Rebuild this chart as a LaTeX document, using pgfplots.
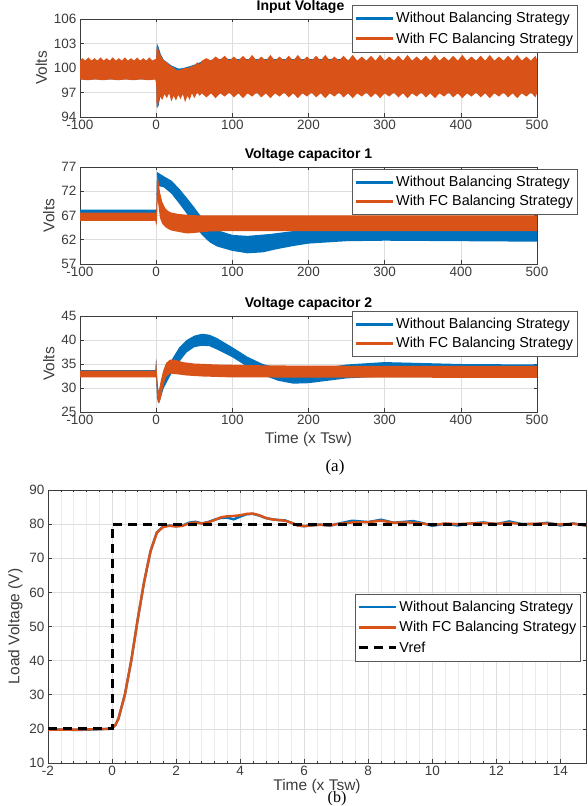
\documentclass[border=0pt]{standalone}
\usepackage{pgfplots}
\pgfplotsset{compat=1.18}
\usepgfplotslibrary{fillbetween}
\usepackage{fontspec}
\setmainfont{Liberation Sans}
\newfontfamily\capfont{Liberation Serif}

\definecolor{mblue}{RGB}{0,114,189}
\definecolor{morange}{RGB}{217,83,25}
\definecolor{axgray}{RGB}{60,60,60}
\definecolor{gridgray}{RGB}{222,222,222}

\pgfplotsset{
  mstyle/.style={
    scale only axis,
    axis line style={axgray, line width=0.6pt},
    tick style={axgray, line width=0.5pt},
    tick align=inside,
    major tick length=3.5pt,
    ticklabel style={font=\fontsize{13.5}{15}\selectfont, text=axgray},
    /pgf/number format/assume math mode=true,
    /pgf/number format/1000 sep={},
    grid=major,
    major grid style={gridgray, line width=0.6pt},
    label style={font=\fontsize{15.5}{17}\selectfont, text=axgray},
    title style={font=\bfseries\fontsize{14}{16}\selectfont, yshift=-4pt},
    legend style={font=\fontsize{14.4}{16}\selectfont, draw=black!65, line width=0.5pt,
      fill=white, inner xsep=2pt, inner ysep=5pt, row sep=3pt, cells={anchor=west}},
    legend image code/.code={\draw[##1] (0pt,0pt) -- (37pt,0pt);},
  },
  band/.style={draw=none, forget plot},
}

\begin{document}
\begin{tikzpicture}

% ---------------- Input voltage ----------------
\begin{axis}[mstyle, at={(80pt,689pt)}, anchor=south west, width=457pt, height=98pt,
  xmin=-100, xmax=500, ymin=94, ymax=106,
  xtick={-100,0,...,500}, ytick={94,97,100,103,106},
  ylabel={Volts}, title={Input Voltage}, title style={xshift=-8pt},
  legend style={at={(0.595,1.14)}, anchor=north west, row sep=4.5pt}]
\addplot[band, name path=bu1] coordinates {(-100,100.9)(-1,100.9)(0,101.2)(1,103.0)(3,102.6)(6,101.7)(10,101.0)(20,100.3)(30,99.9)(40,100.1)(50,100.4)(60,100.8)(80,101.1)(100,101.1)(240,101.1)(260,100.9)(500,100.9)};
\addplot[band, name path=bl1] coordinates {(-100,98.6)(-1,98.6)(0,98.0)(1,95.2)(3,95.3)(6,96.8)(10,96.9)(500,96.9)};
\addplot[mblue, forget plot] fill between[of=bu1 and bl1];
\addplot[band, name path=ou1] coordinates {(-100,100.9)(-97,101.2)(-93,100.9)(-89,101.3)(-85,100.9)(-81,101.2)(-77,100.9)(-73,101.3)(-69,100.9)(-65,101.2)(-61,100.9)(-57,101.3)(-53,100.9)(-49,101.2)(-45,100.9)(-41,101.3)(-37,100.9)(-33,101.2)(-29,100.9)(-25,101.3)(-21,100.9)(-17,101.2)(-13,100.9)(-9,101.3)(-5,100.9)(-1,101.1)
(0,101.0)(0.5,102.5)(2,102.6)(4,101.9)(7,101.4)(10,100.9)(14,100.7)(18,100.3)(22,100.1)(26,99.8)(30,99.7)(34,99.9)(38,100.0)(42,100.0)(46,100.2)(50,100.3)(54,100.7)(57,100.4)
(60,100.9)(66,101.2)(72,100.9)(78,101.4)(84,101.0)(90,101.5)(96,100.9)(102,101.4)(108,100.9)(114,101.5)(120,100.9)(126,101.6)(132,100.9)(138,101.4)(144,100.9)(150,101.6)(156,100.9)(162,101.4)(168,100.9)(174,101.5)(180,100.9)(186,101.6)(192,100.9)(198,101.4)(204,100.9)(210,101.5)(216,100.9)(222,101.6)(228,100.9)(234,101.4)(240,100.9)(246,101.5)(252,100.9)(258,101.6)(264,100.9)(270,101.4)(276,100.9)(282,101.5)(288,100.9)(294,101.6)(300,100.9)(306,101.4)(312,100.9)(318,101.5)(324,100.9)(330,101.6)(336,100.9)(342,101.4)(348,100.9)(354,101.5)(360,100.9)(366,101.6)(372,100.9)(378,101.4)(384,100.9)(390,101.5)(396,100.9)(402,101.6)(408,100.9)(414,101.4)(420,100.9)(426,101.5)(432,100.9)(438,101.6)(444,100.9)(450,101.4)(456,100.9)(462,101.5)(468,100.9)(474,101.6)(480,100.9)(486,101.4)(492,100.9)(498,101.5)(500,101.0)};
\addplot[band, name path=ol1] coordinates {(-100,98.6)(-90,98.5)(-80,98.6)(-70,98.5)(-60,98.6)(-50,98.5)(-40,98.6)(-30,98.5)(-20,98.6)(-10,98.5)(-1,98.6)
(0,98.5)(0.5,95.3)(2,95.1)(3,95.8)(5,96.5)(8,96.1)(11,96.8)(14,96.3)(17,96.9)(20,95.9)(23,96.6)(26,96.0)(29,96.7)(32,96.2)(35,96.8)(38,95.8)(41,96.6)(44,96.1)(47,96.9)(50,96.3)(54,97.0)(57,96.6)
(60,96.9)(66,96.4)(72,96.9)(78,96.3)(84,96.9)(90,96.5)(96,97.0)(102,96.4)(108,96.9)(114,96.3)(120,96.9)(126,96.5)(132,97.0)(138,96.4)(144,96.9)(150,96.3)(156,96.9)(162,96.5)(168,97.0)(174,96.4)(180,96.9)(186,96.3)(192,96.9)(198,96.5)(204,97.0)(210,96.4)(216,96.9)(222,96.3)(228,96.9)(234,96.5)(240,97.0)(246,96.4)(252,96.9)(258,96.3)(264,96.9)(270,96.5)(276,97.0)(282,96.4)(288,96.9)(294,96.3)(300,96.9)(306,96.5)(312,97.0)(318,96.4)(324,96.9)(330,96.3)(336,96.9)(342,96.5)(348,97.0)(354,96.4)(360,96.9)(366,96.3)(372,96.9)(378,96.5)(384,97.0)(390,96.4)(396,96.9)(402,96.3)(408,96.9)(414,96.5)(420,97.0)(426,96.4)(432,96.9)(438,96.3)(444,96.9)(450,96.5)(456,97.0)(462,96.4)(468,96.9)(474,96.3)(480,96.9)(486,96.5)(492,97.0)(498,96.4)(500,96.9)};
\addplot[morange, forget plot] fill between[of=ou1 and ol1];
\addlegendimage{mblue, line width=3pt}
\addlegendentry{Without Balancing Strategy}
\addlegendimage{morange, line width=3pt}
\addlegendentry{With FC Balancing Strategy}
\end{axis}

% ---------------- Capacitor 1 ----------------
\begin{axis}[mstyle, at={(80pt,542pt)}, anchor=south west, width=457pt, height=97pt,
  xmin=-100, xmax=500, ymin=57, ymax=77,
  xtick={-100,0,...,500}, ytick={57,62,67,72,77},
  ylabel={Volts}, title={Voltage capacitor 1},
  legend style={at={(0.595,0.98)}, anchor=north west}]
\addplot[band, name path=bu2] coordinates {(-100,68.2)(-1,68.2)(0,68.3)(1,76.0)(5,75.6)(10,75.1)(20,74.2)(30,72.6)(40,70.7)(50,68.7)(60,66.6)(70,65.0)(80,64.0)(100,63.0)(120,62.8)(150,63.2)(175,63.7)(200,64.1)(250,64.4)(300,64.4)(400,64.3)(500,64.2)};
\addplot[band, name path=bl2] coordinates {(-100,66.5)(-1,66.5)(0,65.5)(1,73.0)(5,73.0)(10,72.8)(20,71.5)(30,69.5)(40,67.4)(50,65.0)(60,63.0)(70,61.5)(80,60.6)(100,59.7)(120,59.2)(140,59.4)(160,60.1)(180,60.7)(200,61.2)(250,61.7)(300,61.8)(400,61.7)(500,61.6)};
\addplot[mblue, forget plot] fill between[of=bu2 and bl2];
\addplot[band, name path=ou2] coordinates {(-100,67.6)(-1,67.6)(0,67.8)(1.5,75.3)(3,74.2)(5,71.8)(8,69.8)(12,68.5)(16,67.9)(20,67.6)(30,67.3)(45,67.1)(60,67.0)(500,67.0)};
\addplot[band, name path=ol2] coordinates {(-100,65.9)(-1,65.9)(0,64.9)(1,65.5)(2,70.5)(3,69.0)(5,66.5)(8,65.3)(12,64.6)(16,64.2)(20,63.9)(30,63.6)(40,63.3)(50,63.4)(70,63.7)(100,63.8)(500,63.8)};
\addplot[morange, forget plot] fill between[of=ou2 and ol2];
\addlegendimage{mblue, line width=3pt}
\addlegendentry{Without Balancing Strategy}
\addlegendimage{morange, line width=3pt}
\addlegendentry{With FC Balancing Strategy}
\end{axis}

% ---------------- Capacitor 2 ----------------
\begin{axis}[mstyle, at={(80pt,394pt)}, anchor=south west, width=457pt, height=96pt,
  xmin=-100, xmax=500, ymin=25, ymax=45,
  xtick={-100,0,...,500}, ytick={25,30,...,45},
  ylabel={Volts}, xlabel={Time (x Tsw)}, title={Voltage capacitor 2},
  legend style={at={(0.595,1.052)}, anchor=north west}]
\addplot[band, name path=bu3] coordinates {(-100,33.7)(-1,33.7)(0,36.2)(1,33.0)(3,29.0)(5,30.2)(10,32.6)(20,35.8)(30,38.4)(40,40.0)(50,40.9)(60,41.3)(70,41.1)(80,40.4)(100,38.5)(120,36.5)(140,35.0)(160,34.2)(180,33.8)(200,33.8)(220,34.2)(250,34.9)(300,35.4)(350,35.2)(400,35.0)(500,34.9)};
\addplot[band, name path=bl3] coordinates {(-100,32.3)(-1,32.3)(0,32.0)(1,28.0)(3,26.8)(5,27.4)(10,30.0)(20,33.0)(30,35.4)(40,37.4)(50,38.5)(60,38.8)(70,38.7)(80,38.0)(100,36.4)(120,34.4)(140,32.7)(160,31.5)(180,30.9)(200,31.0)(220,31.4)(250,32.0)(300,32.4)(400,32.4)(500,32.3)};
\addplot[mblue, forget plot] fill between[of=bu3 and bl3];
\addplot[band, name path=ou3] coordinates {(-100,33.6)(-1,33.6)(0,36.0)(1,33.0)(2,29.5)(4,29.8)(6,31.5)(9,33.5)(13,35.2)(18,35.9)(25,35.9)(35,35.4)(50,35.1)(80,34.9)(150,34.7)(300,34.6)(500,34.6)};
\addplot[band, name path=ol3] coordinates {(-100,32.2)(-1,32.2)(0,32.4)(1,29.0)(2,27.2)(4,26.8)(6,27.8)(9,30.3)(13,32.3)(18,33.0)(25,32.9)(40,32.6)(60,32.4)(100,32.2)(500,32.1)};
\addplot[morange, forget plot] fill between[of=ou3 and ol3];
\addlegendimage{mblue, line width=3pt}
\addlegendentry{Without Balancing Strategy}
\addlegendimage{morange, line width=3pt}
\addlegendentry{With FC Balancing Strategy}
\end{axis}

\node[font=\capfont\fontsize{17}{19}\selectfont] at (335pt,339pt) {(a)};

% ---------------- Load voltage ----------------
\begin{axis}[mstyle, at={(48pt,43pt)}, anchor=south west, width=538pt, height=273pt,
  xmin=-2, xmax=14.8, ymin=10, ymax=90,
  xtick={-2,0,...,14}, ytick={10,20,...,90},
  minor x tick num=4, grid=both,
  minor grid style={gridgray!60, line width=0.5pt},
  minor tick length=2pt,
  xlabel style={yshift=4pt},
  ylabel={Load Voltage (V)}, xlabel={Time (x Tsw)},
  legend style={at={(0.571,0.62)}, anchor=north west, row sep=4.5pt}]
\addplot[mblue, line width=2.4pt] coordinates {(-2,19.8)(-1,19.7)(-0.1,20.0)(0,20.3)(0.1,21.0)(0.2,23.0)(0.4,30.0)(0.6,40.0)(0.8,52.0)(1.0,63.0)(1.2,72.0)(1.4,77.6)(1.6,79.3)(1.8,79.6)(2.0,79.4)(2.2,79.6)(2.4,80.4)(2.6,80.7)(2.8,80.2)(3.0,80.6)(3.2,81.3)(3.4,81.8)(3.6,81.9)(3.8,81.4)(4.0,82.2)(4.2,82.9)(4.4,83.0)(4.6,82.5)(4.8,81.8)(5.0,81.4)(5.2,81.2)(5.4,81.1)(5.6,80.4)(5.8,79.6)(6.0,79.4)(6.2,79.6)(6.5,79.9)(6.8,79.5)(7.0,80.0)(7.5,81.0)(8.0,80.6)(8.4,81.3)(8.8,80.4)(9.4,80.9)(9.7,80.3)(10.0,79.5)(10.4,80.1)(10.8,79.6)(11.2,80.2)(11.6,80.5)(12.0,80.0)(12.4,80.8)(12.8,80.0)(13.2,80.0)(13.6,80.4)(14.0,79.6)(14.4,80.2)(14.8,79.6)};
\addlegendentry{Without Balancing Strategy}
\addplot[morange, line width=2.4pt] coordinates {(-2,19.8)(-1,19.8)(-0.1,20.0)(0,20.3)(0.1,21.0)(0.2,23.0)(0.4,30.0)(0.6,40.0)(0.8,52.0)(1.0,63.0)(1.2,72.0)(1.4,77.5)(1.6,79.2)(1.8,79.5)(2.0,79.3)(2.2,79.5)(2.4,80.2)(2.6,80.5)(2.8,80.2)(3.0,80.5)(3.2,81.2)(3.4,82.0)(3.6,82.3)(3.8,82.4)(4.0,82.6)(4.2,83.0)(4.4,83.1)(4.6,82.6)(4.8,81.8)(5.0,81.4)(5.2,81.2)(5.4,81.0)(5.6,80.4)(5.8,79.6)(6.0,79.4)(6.2,79.6)(6.5,79.8)(6.8,79.6)(7.0,80.0)(7.5,80.5)(8.0,80.6)(8.4,81.0)(8.8,80.4)(9.2,80.5)(9.6,80.3)(10.0,79.7)(10.4,80.2)(10.8,80.0)(11.2,80.2)(11.6,80.3)(12.0,80.1)(12.4,80.4)(12.8,80.0)(13.2,80.1)(13.6,80.2)(14.0,79.9)(14.4,80.1)(14.8,79.6)};
\addlegendentry{With FC Balancing Strategy}
\addplot[black, line width=3pt, dash pattern=on 9pt off 6pt] coordinates {(-2,20)(0,20)(0,80)(14.8,80)};
\addlegendentry{Vref}
\end{axis}

\node[font=\capfont\fontsize{16}{18}\selectfont] at (337pt,7pt) {(b)};

\pgfresetboundingbox
\path[use as bounding box] (0pt,0pt) rectangle (588pt,806pt);
\end{tikzpicture}
\end{document}
